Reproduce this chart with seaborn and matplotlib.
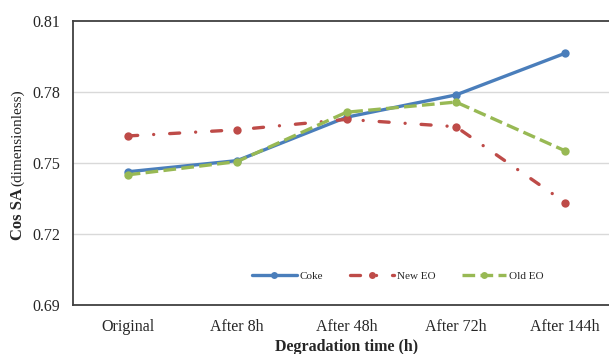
import numpy as np
import pandas as pd
import matplotlib
matplotlib.use("Agg")
import matplotlib.pyplot as plt
import seaborn as sns

# Cos SA measurements over the degradation period
stages = ["Original", "After 8h", "After 48h", "After 72h", "After 144h"]
coke = [0.7463, 0.7510, 0.7693, 0.7787, 0.7963]
new_eo = [0.7614, 0.7640, 0.7684, 0.7653, 0.7333]
old_eo = [0.7450, 0.7506, 0.7714, 0.7757, 0.7551]
series_names = ["Coke", "New EO", "Old EO"]
y_ticks = [0.69, 0.72, 0.75, 0.78, 0.81]

df = pd.DataFrame({
    "stage": stages * 3,
    "pos": list(range(len(stages))) * 3,
    "value": coke + new_eo + old_eo,
    "series": sum([[n] * len(stages) for n in series_names], []),
})

sns.set_theme(style="white")
plt.rcParams["font.family"] = ["Liberation Serif", "DejaVu Serif"]

palette = {"Coke": "#4A7EBB", "New EO": "#BE4B48", "Old EO": "#98B954"}
dashes = {"Coke": "", "New EO": (3.0, 4.8, 0.01, 4.8), "Old EO": (3.8, 1.6)}

fig = plt.figure(figsize=(6.09, 3.54), dpi=100)
ax = fig.add_axes([73 / 609, 1 - 305.3 / 354, 547 / 609, 284.6 / 354])

sns.lineplot(
    data=df, x="pos", y="value", hue="series", style="series",
    palette=palette, dashes=dashes, markers={n: "o" for n in series_names},
    markersize=6, markeredgewidth=0, linewidth=2.4, ax=ax, legend=True,
)

# round the dash-dot caps so the dots show as dots
for line in ax.lines:
    if line.get_label() == "New EO" or line.get_color() in ("#BE4B48", "#be4b48"):
        line.set_dash_capstyle("round")

ax.set_xlim(-0.5, len(stages) - 0.5)
ax.set_ylim(y_ticks[0], y_ticks[-1])
ax.set_xticks(range(len(stages)))
ax.set_xticklabels(stages, fontsize=11.5)
ax.set_yticks(y_ticks)
ax.set_yticklabels([f"{t:.2f}" for t in y_ticks], fontsize=11.5)
ax.tick_params(axis="y", length=0, pad=9)
ax.tick_params(axis="x", length=0, pad=10)

for t in y_ticks[1:-1]:
    ax.axhline(t, color="#D9D9D9", linewidth=1.0, zorder=0)

for side in ["left", "top", "bottom", "right"]:
    ax.spines[side].set_color("#404040")
    ax.spines[side].set_linewidth(1.3)

ax.set_xlabel("Degradation time (h)", fontsize=11.5, fontweight="bold", labelpad=3)
ax.set_ylabel("")

# y-axis title with mixed weights
fig.text(18 / 609, 1 - 240 / 354, "Cos SA", rotation=90, ha="center", va="bottom",
         fontsize=12, fontweight="bold")
fig.text(18 / 609, 1 - 186 / 354, "(dimensionless)", rotation=90, ha="center",
         va="bottom", fontsize=11)

handles, labels = ax.get_legend_handles_labels()
for h in handles:
    h.set_markersize(5)
ax.legend(handles, labels, loc="center", bbox_to_anchor=(398 / 609, 1 - 276 / 354),
          bbox_transform=fig.transFigure, ncol=3, frameon=False, fontsize=8,
          handlelength=4.0, columnspacing=2.4, handletextpad=0.25)

fig.savefig("out.png", dpi=100)
